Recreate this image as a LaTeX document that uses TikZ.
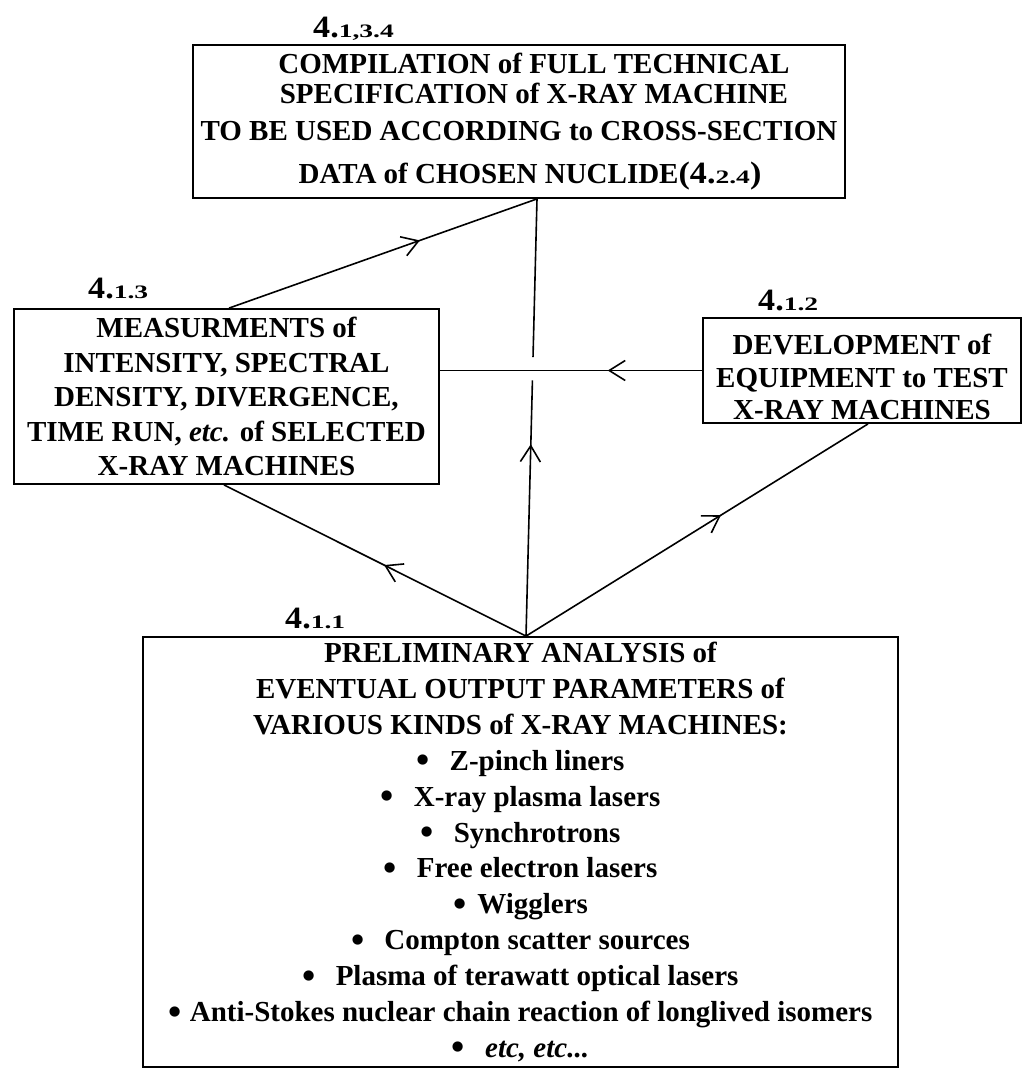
\documentclass[tikz,border=0pt]{standalone}
\usepackage{graphicx}
\usepackage{fontspec}
\setmainfont{Liberation Serif}
\usetikzlibrary{arrows.meta,decorations.markings,calc}

\newcommand{\bignum}[1]{{\fontsize{31}{31}\selectfont\scalebox{1.1}[1]{#1}}}
\newcommand{\smnum}[1]{{\fontsize{19}{19}\selectfont\scalebox{1.45}[1]{#1}}}
\newcommand{\bl}[1]{\raisebox{-2.5pt}{\scalebox{1.3}{\textbullet}}\hspace{#1}}

\tikzset{
  box/.style={draw, line width=1.8pt, align=center, inner sep=0pt},
  conn/.style={line width=1.6pt},
  midarrow/.style={postaction={decorate},
    decoration={markings, mark=at position #1 with
      {\arrow{Straight Barb[length=16pt,width=20pt,line width=1.6pt]}}}},
  num/.style={inner sep=0pt, anchor=base west, font=\bfseries},
}

\begin{document}
\begin{tikzpicture}[x=1pt,y=-1pt]
\useasboundingbox (0,0) rectangle (1022,1074);

% ---- boxes ----
\node[box, minimum width=652pt, minimum height=153pt,
      font=\bfseries\fontsize{29}{35}\selectfont] (spec) at (519,121.5)
  {\hspace*{30pt}COMPILATION of FULL TECHNICAL\\[-5pt]
   \hspace*{30pt}SPECIFICATION of X-RAY MACHINE\\[2pt]
   TO BE USED ACCORDING to CROSS-SECTION\\[8pt]
   \hspace*{22pt}DATA of CHOSEN NUCLIDE\bignum{(4.}\smnum{2.4}\bignum{)}};

\node[box, minimum width=425pt, minimum height=175pt,
      font=\bfseries\fontsize{29}{34.5}\selectfont] (meas) at (226.5,396.5)
  {MEASURMENTS of\\
   INTENSITY, SPECTRAL\\
   DENSITY, DIVERGENCE,\\
   TIME RUN, \textit{etc.} of SELECTED\\
   X-RAY MACHINES};

\node[box, minimum width=318pt, minimum height=105pt,
      font=\bfseries\fontsize{29}{32.5}\selectfont] (dev) at (862,370.5)
  {\rule{0pt}{34pt}DEVELOPMENT of\\
   EQUIPMENT to TEST\\
   X-RAY MACHINES};

\node[box, minimum width=755pt, minimum height=430pt,
      font=\bfseries\fontsize{29}{35.9}\selectfont] (prelim) at (520.5,852)
  {PRELIMINARY ANALYSIS of\\
   EVENTUAL OUTPUT PARAMETERS of\\
   VARIOUS KINDS of X-RAY MACHINES:\\
   \bl{20pt}Z-pinch liners\\
   \bl{20pt}X-ray plasma lasers\\
   \bl{20pt}Synchrotrons\\
   \bl{20pt}Free electron lasers\\
   \bl{11pt}Wigglers\\
   \bl{20pt}Compton scatter sources\\
   \bl{20pt}Plasma of terawatt optical lasers\\
   \bl{8pt}Anti-Stokes nuclear chain reaction of longlived isomers\\
   \bl{20pt}\textit{etc, etc...}};

% ---- number labels ----
\node[num] (l134) at (313,37)  {\bignum{4.}\smnum{1,3.4}};
\node[num] (l13)  at (88,298)  {\bignum{4.}\smnum{1.3}};
\node[num] (l12)  at (758,310) {\bignum{4.}\smnum{1.2}};
\node[num] (l11)  at (285,628) {\bignum{4.}\smnum{1.1}};

% ---- connection points ----
\coordinate (specB) at ([xshift=18pt]spec.south);
\coordinate (measT) at ([xshift=2.5pt]meas.north);
\coordinate (measB) at ([xshift=-2.5pt]meas.south);
\coordinate (measR) at (dev.west -| meas.east);
\coordinate (devB)  at ([xshift=6pt]dev.south);
\coordinate (prelT) at ([xshift=5.5pt]prelim.north);
\coordinate (gapLo) at ($(prelT)!0.585!(specB)$);
\coordinate (gapHi) at ($(prelT)!0.638!(specB)$);

% ---- connectors ----
\draw[conn, midarrow=0.62]  (measT) -- (specB);
\draw[conn, midarrow=0.36]  (dev.west) -- (measR);
\draw[conn, midarrow=0.47]  (prelT) -- (measB);
\draw[conn, midarrow=0.75]  (prelT) -- (gapLo);
\draw[conn]                 (gapHi) -- (specB);
\draw[conn, midarrow=0.57]  (prelT) -- (devB);
\end{tikzpicture}
\end{document}
